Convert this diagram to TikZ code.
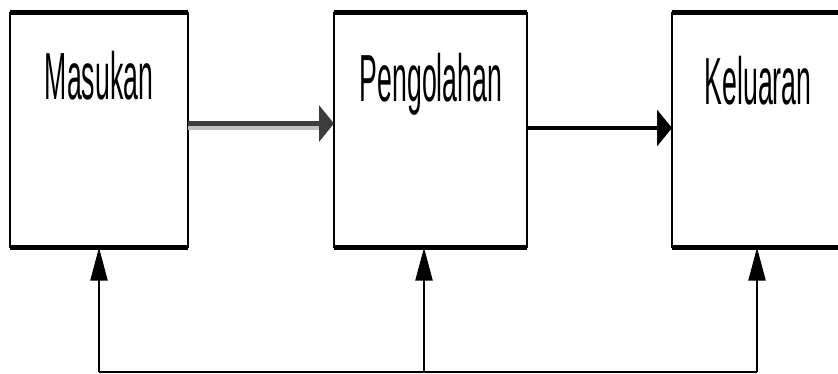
\documentclass[tikz,border=0pt]{standalone}
\usepackage{fontspec}
\setmainfont{Liberation Sans}
\usepackage{graphicx}
\usetikzlibrary{arrows.meta,positioning,calc}

\newcommand{\sempit}[1]{\scalebox{0.4}[1]{#1}}

\tikzset{
	kotak/.style={draw=none, inner sep=0pt, outer sep=0pt, minimum height=176.25pt},
	judul/.style={anchor=base, inner sep=0pt, font=\fontsize{50}{50}\selectfont},
	tipis/.style={line width=1.5pt},
	tebal/.style={line width=3.75pt},
	panahkanan/.style={line width=3.4pt, -{Triangle[length=11.25pt,width=27pt]}},
	panahatas/.style={line width=1.5pt, -{Triangle[length=24.75pt,width=12.75pt]}}
}

\begin{document}
\begin{tikzpicture}[x=0.75pt,y=0.75pt,yscale=-1,xscale=1]
	\useasboundingbox (0,0) rectangle (838,374);
	\clip (0,0) rectangle (838,374);

	% kotak
	\node[kotak, minimum width=133.5pt] (masukan) at (99,130) {};
	\node[kotak, minimum width=144.75pt] (pengolahan) at (430.5,130) {};
	\node[kotak, minimum width=129pt] (keluaran) at (758,130) {};

	\foreach \k in {masukan,pengolahan,keluaran} {
		\draw[tipis] (\k.north west) -- (\k.south west) (\k.north east) -- (\k.south east);
		\draw[tebal] (\k.north west) -- (\k.north east) (\k.south west) -- (\k.south east);
	}

	% teks
	\node[judul] (tmasukan) at (99,100) {\sempit{Masukan}};
	\node[judul] (tpengolahan) at (431,102) {\sempit{Pengolahan}};
	\node[judul] (tkeluaran) at (758,105) {\sempit{Keluaran}};

	% panah mendatar
	\draw[line width=3.4pt, color={rgb,255:red,192;green,192;blue,192}] ($(masukan.east)+(0,-2)$) -- ($(pengolahan.west)+(-15,-2)$);
	\draw[panahkanan, color={rgb,255:red,60;green,60;blue,60}] ($(masukan.east)+(0,-6.5)$) -- ($(pengolahan.west)+(0,-6.5)$);
	\draw[panahkanan] ($(pengolahan.east)+(0,-2)$) -- ($(keluaran.west)+(0,-2)$);

	% umpan balik
	\coordinate (bawahkiri) at (99,372);
	\coordinate (bawahtengah) at (424,372);
	\coordinate (bawahkanan) at (757,372);
	\draw[tipis] (bawahkiri) -- (bawahkanan);
	\draw[panahatas] (bawahkiri) -- (masukan.south);
	\draw[panahatas] (bawahtengah) -- ($(pengolahan.south)+(-6.5,0)$);
	\draw[panahatas] (bawahkanan) -- ($(keluaran.south)+(-1,0)$);
\end{tikzpicture}
\end{document}
